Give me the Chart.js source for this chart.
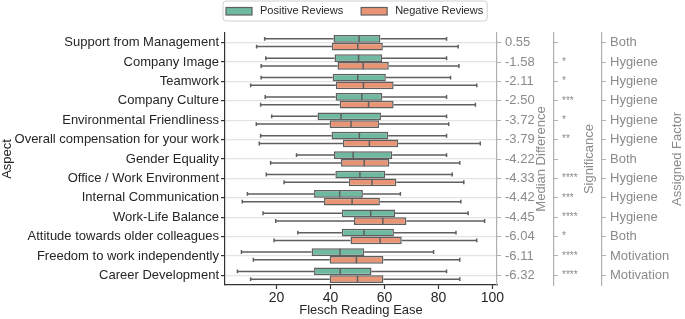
<!DOCTYPE html>
<html>
<head>
<meta charset="utf-8">
<script src="https://cdn.jsdelivr.net/npm/chart.js@4.4.1/dist/chart.umd.min.js"></script>
<style>
  html, body { margin: 0; padding: 0; background: #fff; }
</style>
</head>
<body>
<canvas id="chart" width="685" height="319"></canvas>
<script>
const aspects = [
  "Support from Management",
  "Company Image",
  "Teamwork",
  "Company Culture",
  "Environmental Friendliness",
  "Overall compensation for your work",
  "Gender Equality",
  "Office / Work Environment",
  "Internal Communication",
  "Work-Life Balance",
  "Attitude towards older colleagues",
  "Freedom to work independently",
  "Career Development",
];

// Positive reviews: whisker low, Q1, median, Q3, whisker high
const posLow = [15.6, 16.0, 14.3, 15.8, 18.2, 14.1, 27.4, 16.2, 9.2, 15.0, 27.9, 7.0, 5.5];
const posQ1 = [41.1, 41.5, 40.8, 41.9, 35.2, 40.4, 41.3, 41.8, 33.9, 44.2, 44.2, 33.0, 33.9];
const posMedian = [50.6, 50.4, 50.1, 51.6, 43.9, 50.7, 48.4, 50.9, 43.4, 54.9, 52.4, 43.5, 43.6];
const posQ3 = [58.5, 59.1, 60.5, 59.2, 58.7, 61.4, 62.9, 60.3, 52.0, 63.9, 63.5, 52.5, 55.2];
const posHigh = [83.0, 83.0, 84.5, 83.0, 83.0, 83.0, 83.0, 85.1, 65.9, 91.0, 86.5, 78.2, 83.0];

// Negative reviews
const negLow = [12.6, 14.3, 10.4, 14.1, 12.5, 13.6, 17.8, 22.8, 7.3, 19.7, 19.1, 11.4, 10.4];
const negQ1 = [40.5, 42.6, 42.0, 43.4, 39.7, 44.6, 43.9, 46.8, 37.6, 48.7, 47.4, 39.7, 39.7];
const negMedian = [50.1, 52.1, 52.2, 54.1, 47.6, 54.4, 52.5, 55.4, 48.0, 59.4, 58.4, 49.6, 50.0];
const negQ3 = [59.4, 61.6, 63.4, 63.4, 58.0, 65.1, 61.8, 64.4, 58.3, 68.1, 66.4, 59.6, 59.6];
const negHigh = [87.3, 87.6, 94.2, 93.7, 83.8, 95.5, 87.9, 89.4, 88.3, 97.1, 94.2, 87.9, 87.9];

const medianDiff = ["0.55", "-1.58", "-2.11", "-2.50", "-3.72", "-3.79", "-4.22", "-4.33", "-4.42", "-4.45", "-6.04", "-6.11", "-6.32"];
const significance = ["", "*", "*", "***", "*", "**", "", "****", "***", "****", "*", "****", "****"];
const factors = ["Both", "Hygiene", "Hygiene", "Hygiene", "Hygiene", "Hygiene", "Both", "Hygiene", "Hygiene", "Hygiene", "Both", "Motivation", "Motivation"];

const xTicks = [20, 40, 60, 80, 100];

const EDGE = "#5f5f5f";
const GREEN = "#70b9a1";
const ORANGE = "#e99575";
const SIDE_GREY = "#8a8a8a";
const FONT = "'Liberation Sans', Arial, sans-serif";

Chart.defaults.font.family = FONT;
Chart.defaults.font.size = 13;
Chart.defaults.color = "#262626";

// whiskers, caps and median lines on top of the floating bars
const boxWhiskers = {
  id: "boxWhiskers",
  afterDatasetsDraw(chart) {
    const { ctx } = chart;
    const xs = chart.scales.x;
    chart.data.datasets.forEach((ds, i) => {
      const meta = chart.getDatasetMeta(i);
      meta.data.forEach((bar, j) => {
        const y = bar.y;
        const h = bar.height;
        const lo = xs.getPixelForValue(ds.whiskerLow[j]);
        const q1 = xs.getPixelForValue(ds.data[j][0]);
        const q3 = xs.getPixelForValue(ds.data[j][1]);
        const hi = xs.getPixelForValue(ds.whiskerHigh[j]);
        const med = xs.getPixelForValue(ds.median[j]);
        ctx.save();
        ctx.strokeStyle = EDGE;
        ctx.lineWidth = 1.5;
        ctx.beginPath();
        ctx.moveTo(lo, y); ctx.lineTo(q1, y);
        ctx.moveTo(q3, y); ctx.lineTo(hi, y);
        ctx.moveTo(lo, y - h / 4); ctx.lineTo(lo, y + h / 4);
        ctx.moveTo(hi, y - h / 4); ctx.lineTo(hi, y + h / 4);
        ctx.moveTo(med, y - h / 2 + 0.5); ctx.lineTo(med, y + h / 2 - 0.5);
        ctx.stroke();
        ctx.restore();
      });
    });
  },
};

// matplotlib style titles (bottom-to-top) for the right hand axes
const sideTitles = {
  id: "sideTitles",
  afterDraw(chart) {
    const { ctx } = chart;
    const inset = { yMed: 13, ySig: 13, yFac: 8 };
    Object.keys(inset).forEach((id) => {
      const s = chart.scales[id];
      ctx.save();
      ctx.translate(s.right - inset[id], (s.top + s.bottom) / 2);
      ctx.rotate(-Math.PI / 2);
      ctx.fillStyle = SIDE_GREY;
      ctx.font = "13px " + FONT;
      ctx.textAlign = "center";
      ctx.textBaseline = "middle";
      ctx.fillText(s.options.title.text, 0, 0);
      ctx.restore();
    });
  },
};

// framed legend like matplotlib's
const boxLegend = {
  id: "boxLegend",
  afterDraw(chart) {
    const { ctx } = chart;
    const x0 = 223, y0 = 1, hgt = 20;
    ctx.save();
    ctx.font = "11px " + FONT;
    let x = x0 + 3;
    const items = [];
    chart.data.datasets.forEach((ds) => {
      const w = ctx.measureText(ds.label).width;
      items.push({ x, label: ds.label, color: ds.backgroundColor, w });
      x += 33 + w + 19;
    });
    const right = x - 19 + 5;
    ctx.beginPath();
    ctx.roundRect(x0, y0, right - x0, hgt, 3);
    ctx.fillStyle = "rgba(255,255,255,0.8)";
    ctx.fill();
    ctx.strokeStyle = "#d0d0d0";
    ctx.lineWidth = 1;
    ctx.stroke();
    items.forEach((it) => {
      ctx.fillStyle = it.color;
      ctx.fillRect(it.x, y0 + 6.5, 26, 7.5);
      ctx.strokeStyle = EDGE;
      ctx.lineWidth = 1.2;
      ctx.strokeRect(it.x, y0 + 6.5, 26, 7.5);
      ctx.fillStyle = "#262626";
      ctx.textBaseline = "middle";
      ctx.fillText(it.label, it.x + 34, y0 + hgt / 2);
    });
    ctx.restore();
  },
};

const sideAxis = (labels, title, weight, width, fontSize) => ({
  type: "category",
  position: "right",
  labels: labels,
  offset: true,
  weight: weight,
  afterFit: (scale) => { scale.width = width; },
  grid: {
    offset: false,
    drawOnChartArea: false,
    drawTicks: true,
    tickLength: 4,
    tickColor: "#b0b0b0",
    tickWidth: 1,
  },
  border: { display: true, color: "#b0b0b0", width: 1.2 },
  ticks: { autoSkip: false, padding: 4, color: SIDE_GREY, font: { size: fontSize } },
  title: { display: false, text: title },
});

new Chart(document.getElementById("chart"), {
  type: "bar",
  data: {
    labels: aspects,
    datasets: [
      {
        label: "Positive Reviews",
        data: posQ1.map((q, i) => [q, posQ3[i]]),
        whiskerLow: posLow,
        whiskerHigh: posHigh,
        median: posMedian,
        backgroundColor: GREEN,
        borderColor: EDGE,
        borderWidth: 1.5,
        borderSkipped: false,
      },
      {
        label: "Negative Reviews",
        data: negQ1.map((q, i) => [q, negQ3[i]]),
        whiskerLow: negLow,
        whiskerHigh: negHigh,
        median: negMedian,
        backgroundColor: ORANGE,
        borderColor: EDGE,
        borderWidth: 1.5,
        borderSkipped: false,
      },
    ],
  },
  options: {
    indexAxis: "y",
    responsive: false,
    animation: false,
    events: [],
    layout: { padding: { top: 33, left: 0, right: 0, bottom: 0 } },
    datasets: { bar: { categoryPercentage: 0.8, barPercentage: 1.0 } },
    scales: {
      x: {
        type: "linear",
        min: 0.9,
        max: 101.7,
        afterBuildTicks: (scale) => { scale.ticks = xTicks.map((v) => ({ value: v })); },
        afterFit: (scale) => { scale.height = 34; },
        grid: { drawOnChartArea: false, drawTicks: true, tickLength: 4, tickColor: "#333", tickWidth: 1.2 },
        border: { display: true, color: "#333", width: 1.2 },
        ticks: { padding: 1, font: { size: 14 }, color: "#262626" },
        title: {
          display: true,
          text: "Flesch Reading Ease",
          font: { size: 13 },
          color: "#262626",
          padding: { top: 0, bottom: 1 },
        },
      },
      y: {
        type: "category",
        position: "left",
        offset: true,
        afterFit: (scale) => { scale.width = 225; },
        grid: {
          offset: false,
          color: "#e4e4e4",
          lineWidth: 1.2,
          drawTicks: true,
          tickLength: 4,
          tickColor: "#333",
          tickWidth: 1.2,
        },
        border: { display: true, color: "#333", width: 1.2 },
        ticks: { autoSkip: false, padding: 2, font: { size: 13 }, color: "#262626" },
        title: {
          display: true,
          text: "Aspect",
          font: { size: 13, lineHeight: 1.1 },
          color: "#262626",
          padding: { top: 0, bottom: 0 },
        },
      },
      yMed: sideAxis(medianDiff, "Median Difference", 1, 57, 13),
      ySig: sideAxis(significance, "Significance", 2, 48, 10),
      yFac: sideAxis(factors, "Assigned Factor", 3, 83, 13),
    },
    plugins: {
      legend: { display: false },
      tooltip: { enabled: false },
    },
  },
  plugins: [boxWhiskers, sideTitles, boxLegend],
});
</script>
</body>
</html>
